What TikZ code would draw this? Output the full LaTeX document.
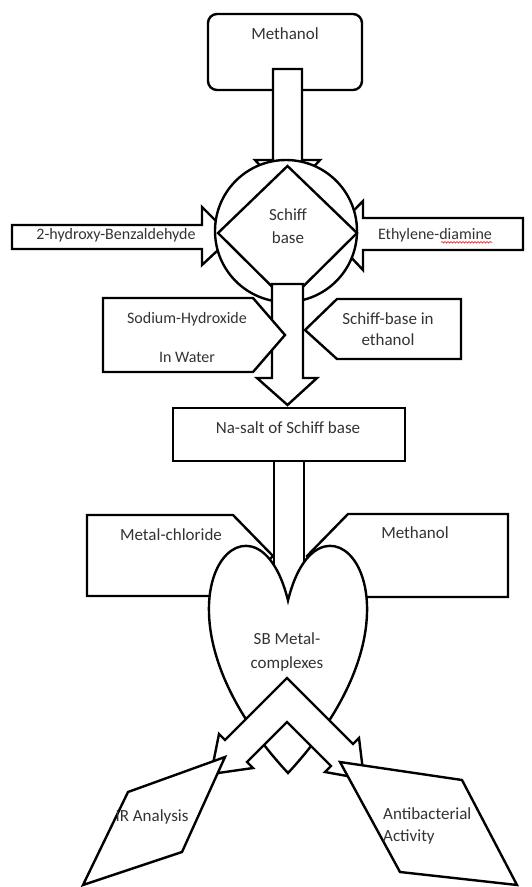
\documentclass[tikz,border=0pt]{standalone}
\usepackage{fontspec}
\setmainfont{Carlito}
\usetikzlibrary{decorations.pathmorphing}
\definecolor{txt}{HTML}{333333}
\begin{document}
\begin{tikzpicture}[x=1pt,y=-1pt,
  shp/.style={draw=black, line width=2.4pt, fill=white, line join=miter},
  lbl/.style={text=txt, font=\fontsize{17}{22}\selectfont, inner sep=0pt, align=center},
  smalllbl/.style={lbl, font=\fontsize{16}{21}\selectfont},
  squiggle/.style={red, line width=0.6pt, decorate, decoration={snake, amplitude=0.8pt, segment length=3pt}},
]
\useasboundingbox[fill=white] (0,0) rectangle (531,887);

% top methanol box and arrow
\draw[shp, rounded corners=9pt] (208,14) rectangle (362,90);
\node[lbl] (meth) at (285,34) {Methanol};
\draw[shp] (273,69) -- (302,69) -- (302,160) -- (320,160) -- (287.5,195) -- (255,160) -- (273,160) -- cycle;

% side arrows
\draw[shp] (12,225) -- (202,225) -- (202,207) -- (232,237) -- (202,265) -- (202,249) -- (12,249) -- cycle;
\draw[shp] (523,218) -- (363,218) -- (363,201) -- (330,235) -- (363,270) -- (363,250) -- (523,250) -- cycle;
\node[smalllbl] (hyd) at (116,235) {2-hydroxy-Benzaldehyde};
\node[smalllbl] (eth) at (435,235) {Ethylene-diamine};
\draw[squiggle] ([xshift=-51pt, yshift=-3pt]eth.base east) -- ([yshift=-3pt]eth.base east);

% circle and diamond
\draw[shp] (286,231) circle[radius=71];
\draw[shp] (287.5,166) -- (357,233) -- (287.5,302) -- (218,233) -- cycle;
\node[lbl, font=\fontsize{17}{23}\selectfont] (sb) at (288,226) {Schiff\\base};

% arrow down to Na-salt
\draw[shp] (272,284) -- (303,284) -- (303,378) -- (317,378) -- (287.5,405) -- (257,378) -- (272,378) -- cycle;

% pentagons
\draw[shp] (103,298) -- (253,298) -- (285,335) -- (253,372) -- (103,372) -- cycle;
\draw[shp] (461,299) -- (337,299) -- (305,330) -- (337,359) -- (461,359) -- cycle;
\node[smalllbl, font=\fontsize{16}{39}\selectfont] (naoh) at (187,337) {Sodium-Hydroxide\\In Water};
\node[lbl, font=\fontsize{17}{21}\selectfont] (sbe) at (388,329) {Schiff-base in\\ethanol};

% shaft and Na-salt box
\draw[shp] (274,461) rectangle (304,600);
\draw[shp] (173,408) rectangle (405,461);
\node[lbl] (na) at (288,428) {Na-salt of Schiff base};

% metal chloride / methanol pentagons
\draw[shp] (87,515) -- (233,515) -- (273,556) -- (233,596) -- (87,596) -- cycle;
\draw[shp] (508,514) -- (348,514) -- (307,556) -- (348,597) -- (508,597) -- cycle;
\node[lbl] (mc) at (171,535) {Metal-chloride};
\node[lbl] (meth2) at (415,533) {Methanol};

% heart
\draw[shp] (288,600.5) .. controls (320.7,466.3) and (448.3,600.5) .. (288,773)
  .. controls (127.7,600.5) and (255.3,466.3) .. (288,600.5) -- cycle;
\node[lbl, font=\fontsize{17}{24}\selectfont] (sbm) at (287,652) {SB Metal-\\complexes};

% double arrow
\draw[shp] (287,678) -- (225,740) -- (219,734) -- (211,774) -- (253,768) -- (247,762)
  -- (287,722) -- (331,766) -- (325,772) -- (364,779) -- (359,738) -- (353,744) -- cycle;

% result parallelograms
\draw[shp] (128,792) -- (225,757) -- (182,852) -- (83,885) -- cycle;
\draw[shp] (340,762) -- (462,780) -- (517,885) -- (400,872) -- cycle;
\node[lbl] (ir) at (152,817) {IR Analysis};
\node[lbl, align=left, anchor=west, font=\fontsize{17}{22}\selectfont] (ab) at (383,826) {Antibacterial\\Activity};
\end{tikzpicture}
\end{document}
